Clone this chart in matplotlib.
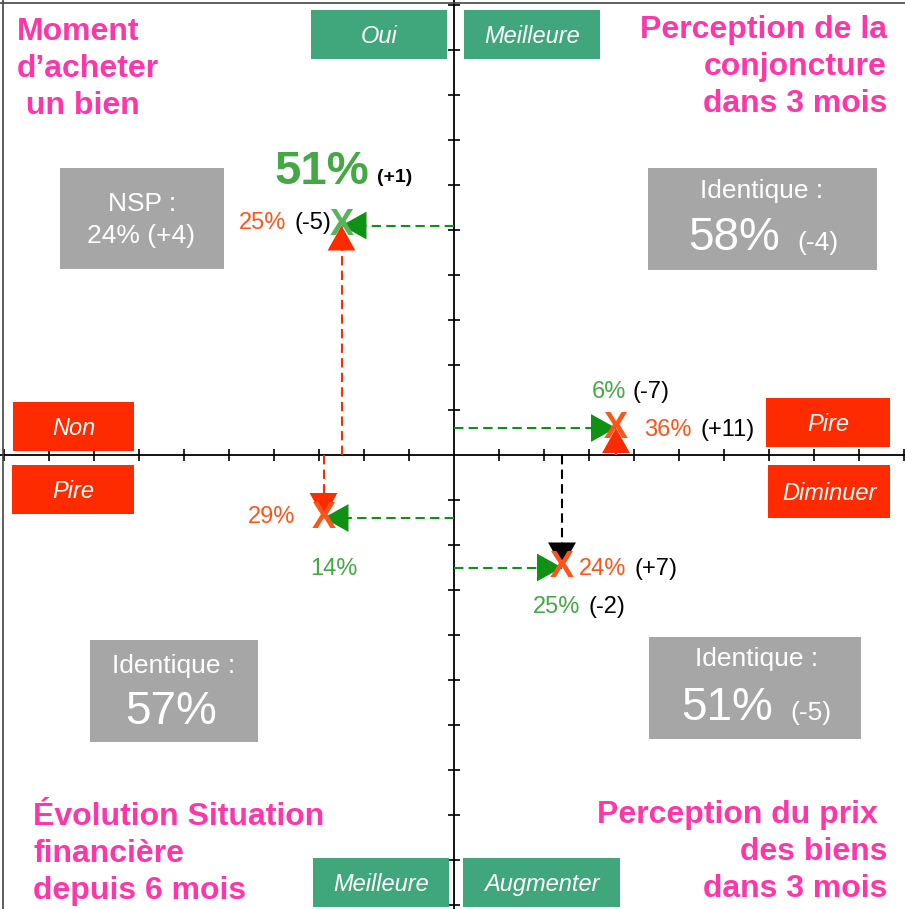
import matplotlib
matplotlib.use("Agg")
import matplotlib.pyplot as plt
from matplotlib.patches import Rectangle
from matplotlib.lines import Line2D

W, H = 905, 909
CX, CY = 454, 455          # croisement des axes (px)
PX = 4.5                   # px par point de %

PINK, GREEN_BOX, RED_BOX, GRAY = "#ff35a8", "#3fa77b", "#ff2b00", "#a6a6a6"
ORANGE, GREEN_TXT, GREEN_ARR, GREEN_X = "#ff5419", "#44a844", "#0f9214", "#58b458"

plt.rcParams["font.family"] = ["Liberation Sans", "DejaVu Sans"]

quadrants = ["Moment d'acheter un bien", "Conjoncture dans 3 mois",
             "Situation financière depuis 6 mois", "Prix des biens dans 3 mois"]
x_pct   = [25, 36, 29, 24]
y_pct   = [51, 6, 14, 25]
x_sign  = [-1, 1, -1, 1]
y_sign  = [1, 1, -1, -1]
x_delta = ["(-5)", "(+11)", "", "(+7)"]
y_delta = ["(+1)", "(-7)", "", "(-2)"]
rest_label = ["NSP :", "Identique :", "Identique :", "Identique :"]
rest_pct   = [24, 58, 57, 51]
rest_delta = ["(+4)", "(-4)", "", "(-5)"]

xs = [s * v for s, v in zip(x_sign, x_pct)]
ys = [s * v for s, v in zip(y_sign, y_pct)]

fig = plt.figure(figsize=(W / 100, H / 100), dpi=100)
ax = fig.add_axes([0, 0, 1, 1])
ax.set_xlim(-CX / PX, (W - CX) / PX)
ax.set_ylim(-(H - CY) / PX, CY / PX)

for side in ("top", "right"):
    ax.spines[side].set_visible(False)
for side in ("left", "bottom"):
    ax.spines[side].set_position(("data", 0))
    ax.spines[side].set_linewidth(1.3)
ticks = [t for t in range(-100, 101, 10) if t != 0]
ax.set_xticks(ticks)
ax.set_yticks(ticks)
ax.tick_params(direction="inout", length=9, width=1.2,
               labelbottom=False, labelleft=False)

# cadre (haut et gauche)
fig.add_artist(Line2D([0, 1], [1 - 3 / H] * 2, color="#444444", lw=1.2))
fig.add_artist(Line2D([2.5 / W] * 2, [0, 1], color="#444444", lw=1.2))


def em(pt):
    return pt * 100 / 72


def txt(x, yc, s, pt, color="white", ha="center", **kw):
    # yc = centre visuel des capitales, en px depuis le haut
    yb = yc + 0.358 * em(pt)
    ax.text(x / W, 1 - yb / H, s, transform=ax.transAxes, fontsize=pt,
            color=color, ha=ha, va="baseline", zorder=6, **kw)


def box(x0, y0, x1, y1, color, label=None):
    ax.add_patch(Rectangle((x0 / W, 1 - y1 / H), (x1 - x0) / W, (y1 - y0) / H,
                           transform=ax.transAxes, facecolor=color,
                           edgecolor="none", zorder=2))
    if label:
        txt((x0 + x1) / 2, (y0 + y1) / 2, label, 17, style="italic")


def lbl(i, dx, dy, s, pt, color, ha="left", weight="normal"):
    # dx, dy : decalage en px par rapport au point (dy vers le bas)
    ax.annotate(s, xy=(xs[i], ys[i]), xytext=(dx, -dy - 0.358 * em(pt)),
                textcoords="offset pixels", fontsize=pt, color=color,
                ha=ha, va="baseline", fontweight=weight, zorder=6)


def arrow(x0, y0, x1, y1, color):
    ax.plot([x0, x1], [y0, y1], color=color, lw=1.5, ls=(0, (4.5, 2.5)), zorder=3)
    ax.annotate("", xy=(x1, y1), xytext=(x0, y0),
                arrowprops=dict(arrowstyle="-|>,head_length=0.9,head_width=0.5",
                                mutation_scale=20, color=color, lw=0,
                                shrinkA=0, shrinkB=0), zorder=4)


# fleches et croix
x_arrow_col = [RED_BOX, RED_BOX, RED_BOX, "black"]
mark_col = [GREEN_X, ORANGE, ORANGE, ORANGE]
for i in range(4):
    arrow(0, ys[i], xs[i], ys[i], GREEN_ARR)
    arrow(xs[i], 0, xs[i], ys[i], x_arrow_col[i])
    ax.text(xs[i], ys[i], "X", ha="center", va="center", fontsize=26,
            fontweight="bold", color=mark_col[i], zorder=5)

# etiquettes autour des points
lbl(0, -20, -58, f"{y_pct[0]}%", 34, GREEN_TXT, ha="center", weight="bold")
lbl(0, 36, -50, y_delta[0], 14, "black", weight="bold")
lbl(0, -55, -5, f"{x_pct[0]}%", 17, ORANGE, ha="right")
lbl(0, -10, -5, x_delta[0], 17, "black", ha="right")

lbl(1, -24, -38, f"{y_pct[1]}%", 17, GREEN_TXT)
lbl(1, 16, -38, y_delta[1], 17, "black")
lbl(1, 28, 0, f"{x_pct[1]}%", 17, ORANGE)
lbl(1, 84, 0, x_delta[1], 17, "black")

lbl(2, -28, -3, f"{x_pct[2]}%", 17, ORANGE, ha="right")
lbl(2, 10, 49, f"{y_pct[2]}%", 17, GREEN_TXT, ha="center")

lbl(3, 17, -1, f"{x_pct[3]}%", 17, ORANGE)
lbl(3, 73, -1, x_delta[3], 17, "black")
lbl(3, -29, 37, f"{y_pct[3]}%", 17, GREEN_TXT)
lbl(3, 26, 37, y_delta[3], 17, "black")

# modalites sur les axes
box(311, 10, 447, 59, GREEN_BOX, "Oui")
box(464, 10, 600, 59, GREEN_BOX, "Meilleure")
box(13, 402, 134, 451, RED_BOX, "Non")
box(12, 465, 134, 514, RED_BOX, "Pire")
box(766, 398, 890, 447, RED_BOX, "Pire")
box(768, 465, 890, 518, RED_BOX, "Diminuer")
box(313, 858, 449, 907, GREEN_BOX, "Meilleure")
box(463, 858, 620, 907, GREEN_BOX, "Augmenter")

# encadres gris (NSP / Identique)
box(60, 168, 224, 269, GRAY)
txt(142, 202, rest_label[0], 19)
txt(141, 234, f"{rest_pct[0]}% {rest_delta[0]}", 19)

box(648, 168, 877, 270, GRAY)
txt(762, 189, rest_label[1], 19)
txt(688, 234, f"{rest_pct[1]}%", 33, ha="left")
txt(797, 241, rest_delta[1], 19, ha="left")

box(90, 640, 258, 742, GRAY)
txt(174, 664, rest_label[2], 19)
txt(171, 708, f"{rest_pct[2]}%", 33)

box(649, 637, 861, 739, GRAY)
txt(757, 657, rest_label[3], 19)
txt(681, 704, f"{rest_pct[3]}%", 33, ha="left")
txt(790, 711, rest_delta[3], 19, ha="left")

# titres des quadrants
titles = [
    (17, 29, "left", ["Moment", "d’acheter", " un bien"]),
    (887, 27, "right", ["Perception de la", "conjoncture", "dans 3 mois"]),
    (33, 814, "left", ["Évolution Situation", "financière", "depuis 6 mois"]),
    (887, 812, "right", ["Perception du prix ", "des biens", "dans 3 mois"]),
]
for x, y0, ha, lines in titles:
    for k, line in enumerate(lines):
        txt(x, y0 + 37 * k, line, 23, color=PINK, ha=ha, fontweight="bold")

fig.savefig("out.png", dpi=100)
plt.close(fig)
